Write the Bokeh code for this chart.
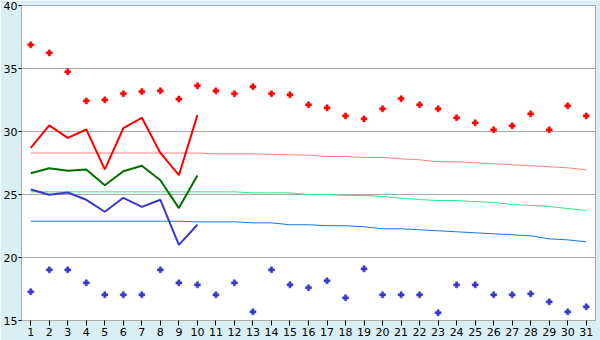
from bokeh.plotting import figure
from bokeh.models import Range1d, FixedTicker
from bokeh.embed import file_html
from bokeh.resources import INLINE

days = list(range(1, 32))

# daily observations (first 10 days)
obs_days = list(range(1, 11))
obs_max = [28.7, 30.48, 29.5, 30.16, 27.0, 30.26, 31.09, 28.3, 26.53, 31.3]
obs_mean = [26.69, 27.09, 26.88, 26.98, 25.74, 26.85, 27.28, 26.13, 23.92, 26.5]
obs_min = [25.4, 24.98, 25.16, 24.58, 23.63, 24.74, 24.02, 24.58, 21.0, 22.6]

# record values
rec_max = [36.88, 36.24, 34.74, 32.43, 32.51, 33.0, 33.17, 33.23, 32.57, 33.63,
           33.23, 33.0, 33.55, 33.0, 32.91, 32.12, 31.88, 31.24, 31.0, 31.8,
           32.6, 32.12, 31.8, 31.09, 30.69, 30.13, 30.45, 31.4, 30.13, 32.04, 31.24]
rec_min = [17.28, 19.02, 19.02, 17.99, 17.04, 17.04, 17.04, 19.02, 17.99, 17.83,
           17.04, 17.99, 15.69, 19.02, 17.83, 17.6, 18.15, 16.8, 19.1, 17.04,
           17.04, 17.04, 15.61, 17.83, 17.83, 17.04, 17.04, 17.12, 16.48, 15.69, 16.09]

# normals
norm_max = [28.29] * 10 + [28.23, 28.23, 28.23, 28.17, 28.15, 28.12, 28.02, 28.02, 27.94, 27.94,
                          27.83, 27.75, 27.6, 27.6, 27.52, 27.44, 27.36, 27.28, 27.2, 27.12, 26.96]
norm_mean = [25.21] * 12 + [25.13, 25.13, 25.13, 25.0, 25.0, 24.92, 24.92, 24.84,
                            24.71, 24.6, 24.52, 24.52, 24.44, 24.37, 24.21, 24.13, 24.05, 23.89, 23.73]
norm_min = [22.88] * 9 + [22.83, 22.83, 22.83, 22.75, 22.75, 22.6, 22.6, 22.52, 22.52, 22.44, 22.28,
                          22.28, 22.2, 22.12, 22.04, 21.96, 21.88, 21.8, 21.72, 21.48, 21.4, 21.25]

y_ticks = [15, 20, 25, 30, 35, 40]

p = figure(width=600, height=340, output_backend="svg", toolbar_location=None,
           x_range=Range1d(0.5, 31.5), y_range=Range1d(15, 40),
           min_border_left=20, min_border_right=5, min_border_top=5, min_border_bottom=20)

p.background_fill_color = "white"
p.border_fill_color = "#D9EFF5"
p.outline_line_color = "#AAAAAA"
p.outline_line_width = 1

p.xgrid.grid_line_color = None
p.ygrid.grid_line_color = "#AAAAAA"
p.ygrid.grid_line_width = 1

p.xaxis.ticker = FixedTicker(ticks=days)
p.yaxis.ticker = FixedTicker(ticks=y_ticks)
for ax in (p.xaxis, p.yaxis):
    ax.axis_line_color = "#AAAAAA"
    ax.major_tick_line_color = "black"
    ax.minor_tick_line_color = None
    ax.major_tick_in = 0
    ax.major_label_text_font = "DejaVu Sans"
    ax.major_label_text_font_size = "11px"
    ax.major_label_text_color = "black"
p.xaxis.major_tick_out = 5
p.yaxis.major_tick_out = 3
p.xaxis.major_label_standoff = 2
p.yaxis.major_label_standoff = 1

# normals
p.line(days, norm_max, line_color="#FF8080", line_width=1)
p.line(days, norm_mean, line_color="#22EE88", line_width=1)
p.line(days, norm_min, line_color="#1177EE", line_width=1)

# observations
p.line(obs_days, obs_max, line_color="#FF0000", line_width=2)
p.line(obs_days, obs_mean, line_color="#006E00", line_width=2)
p.line(obs_days, obs_min, line_color="#3838CC", line_width=2)

# records
p.scatter(days, rec_max, marker="plus", size=6, color="#FF0000", line_width=0.5)
p.scatter(days, rec_min, marker="plus", size=6, color="#3838CC", line_width=0.5)

open("out.html", "w").write(file_html(p, INLINE))
